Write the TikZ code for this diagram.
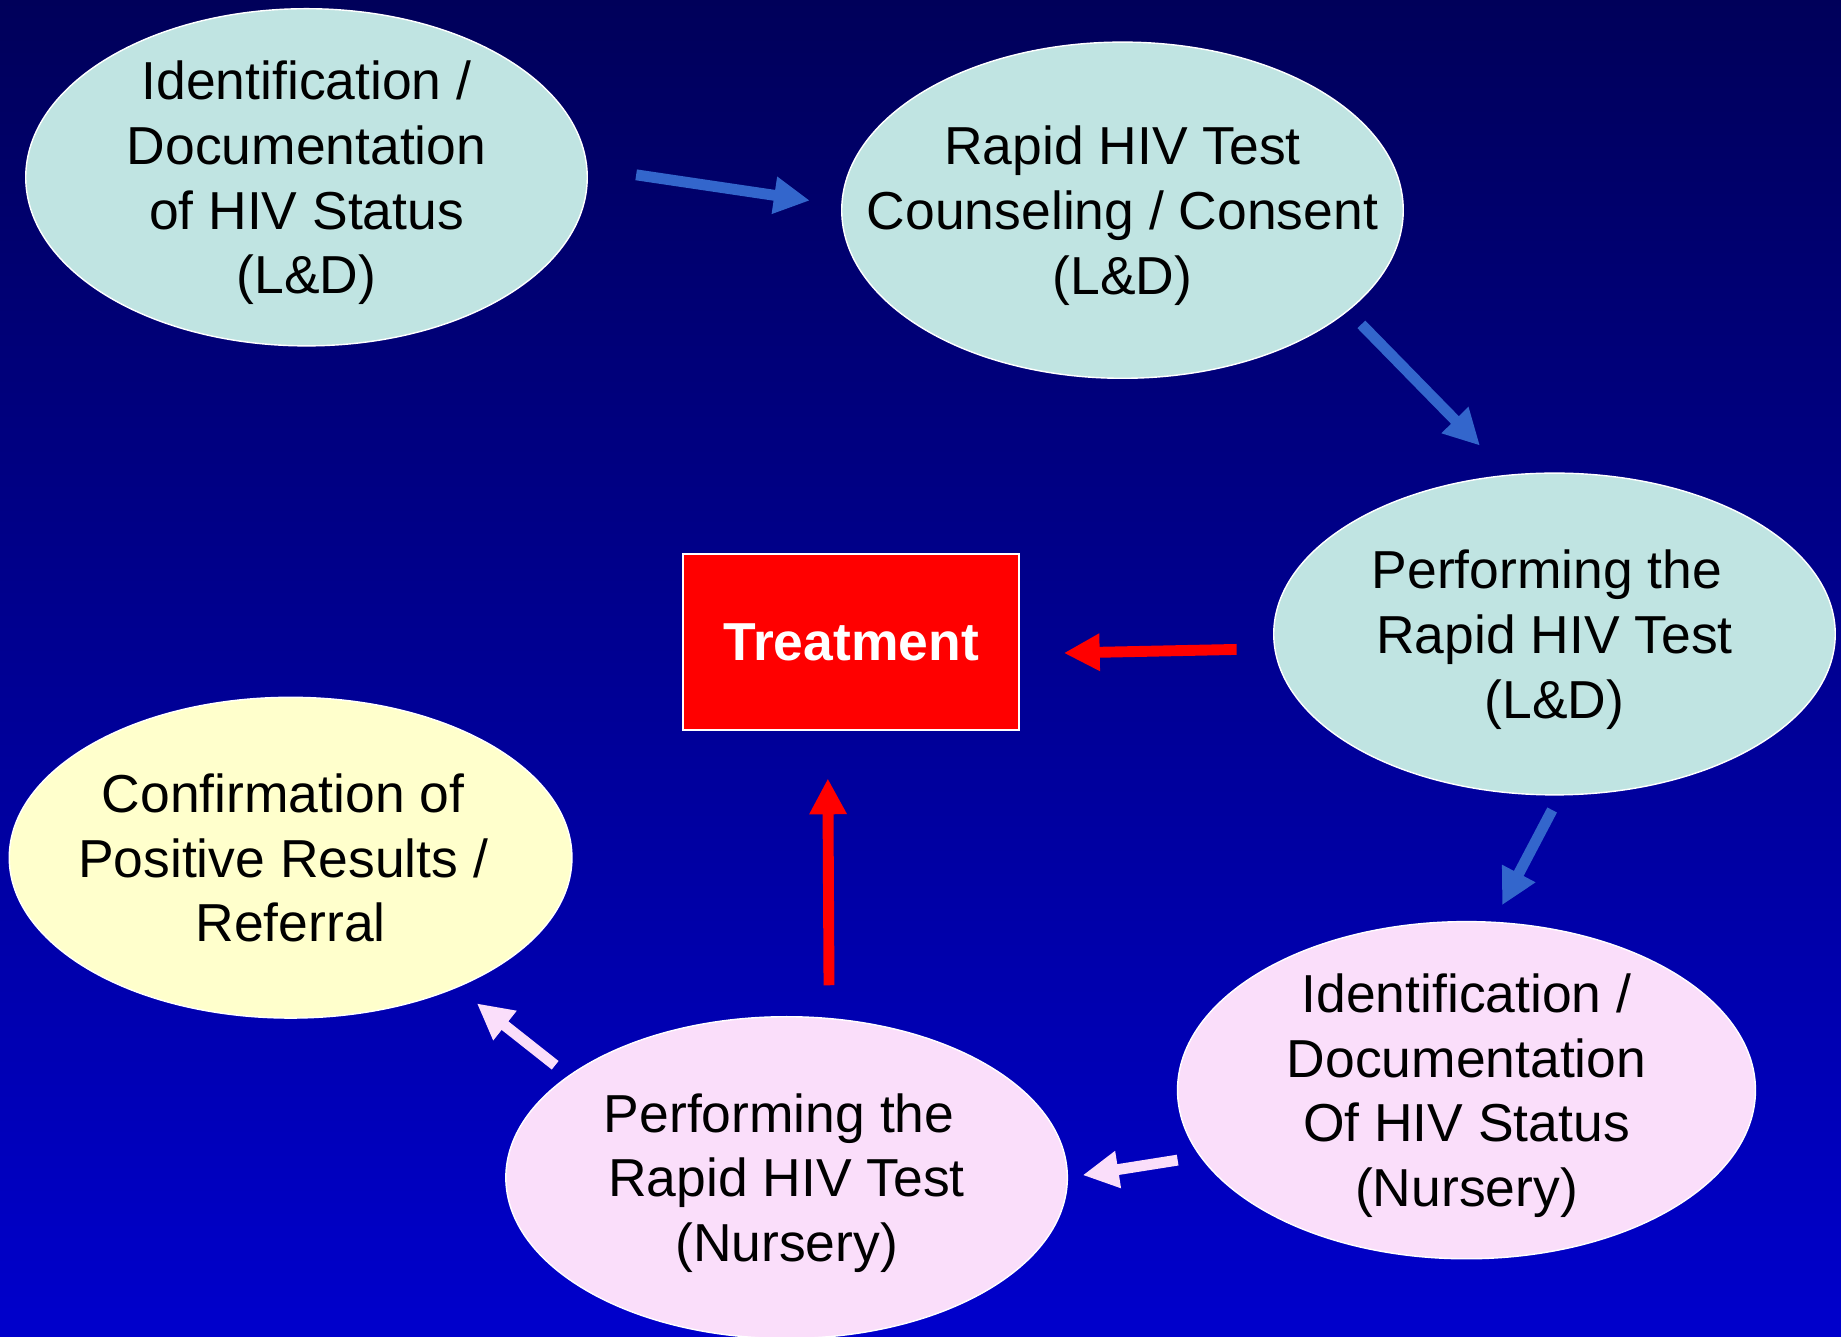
\documentclass[tikz,border=0pt]{standalone}
\usepackage{fontspec}
\setmainfont{Liberation Sans}
\usetikzlibrary{shapes.geometric,arrows.meta}

\definecolor{bgtop}{RGB}{0,0,90}
\definecolor{bgbottom}{RGB}{0,0,204}
\definecolor{stagecyan}{RGB}{192,228,226}
\definecolor{stagepink}{RGB}{250,222,250}
\definecolor{stageyellow}{RGB}{255,255,204}
\definecolor{arrowblue}{RGB}{51,102,204}
\newcommand\stagefont{\fontsize{15.2}{18.4}\selectfont}
\newcommand\trailsp{\kern0.28em}

\begin{document}
\begin{tikzpicture}[x=0.01cm, y=-0.01cm,
	stagebox/.style={ellipse, draw=white, line width=0.4pt, inner xsep=-1cm, inner ysep=-0.5cm, outer sep=0pt, align=center, text depth=0pt, font=\stagefont},
	cyanstage/.style={stagebox, fill=stagecyan},
	pinkstage/.style={stagebox, fill=stagepink},
	yellowstage/.style={stagebox, fill=stageyellow},
	treatbox/.style={rectangle, draw=white, line width=0.6pt, fill=red, outer sep=0pt, text=white, font=\stagefont\bfseries},
	flowarrow/.style={line width=3.1pt, -{Triangle[length=10.2pt,width=10pt]}},
	bluearrow/.style={flowarrow, draw=arrowblue},
	redarrow/.style={flowarrow, draw=red},
	pinkarrow/.style={flowarrow, draw=stagepink}]
	\fill[top color=bgtop, bottom color=bgbottom] (0,0) rectangle (1841,1337);
	\useasboundingbox (0,0) rectangle (1841,1337);

	\node[cyanstage, minimum width=5.612cm, minimum height=3.37cm] (idld) at (306.5,177.3) {Identification /\\Documentation\\of HIV Status\\(L\&D)};
	\node[cyanstage, minimum width=5.612cm, minimum height=3.36cm] (rapidld) at (1122.5,210.2) {Rapid HIV Test\\Counseling / Consent\\(L\&D)};
	\node[cyanstage, minimum width=5.612cm, minimum height=3.216cm] (perfld) at (1554.5,634) {Performing the\trailsp\\Rapid HIV Test\\(L\&D)};
	\node[pinkstage, minimum width=5.776cm, minimum height=3.37cm] (idnur) at (1466.5,1090.2) {Identification /\\Documentation\\Of HIV Status\\(Nursery)};
	\node[pinkstage, minimum width=5.612cm, minimum height=3.216cm] (perfnur) at (786.6,1177.6) {Performing the\trailsp\\Rapid HIV Test\\(Nursery)};
	\node[yellowstage, minimum width=5.624cm, minimum height=3.206cm] (confirm) at (290.6,857.7) {Confirmation of\trailsp\\Positive Results /\trailsp\\Referral};
	\node[treatbox, minimum width=3.358cm, minimum height=1.761cm] (treat) at (851.2,642.2) {Treatment};

	\draw[bluearrow, shorten <=0.499cm, shorten >=0.3235cm] (idld.2.96) -- (rapidld.179.44);
	\draw[bluearrow, shorten <=0.194cm, shorten >=0.414cm] (rapidld.-24.78) -- (perfld.106.06);
	\draw[redarrow, shorten <=0.383cm, shorten >=0.446cm] (perfld.-177.7) -- (treat.-4.63);
	\draw[bluearrow, shorten <=0.171cm, shorten >=0.193cm] (perfld.-88.93) -- (idnur.81.03);
	\draw[pinkarrow, shorten <=0.234cm, shorten >=0.155cm] (idnur.-166.1) -- (perfnur.-0.29);
	\draw[redarrow, shorten <=0.333cm, shorten >=0.481cm] (perfnur.75.89) -- (treat.-105.6);
	\draw[pinkarrow, shorten <=0.174cm, shorten >=0.26cm] (perfnur.155.28) -- (confirm.-38.32);
\end{tikzpicture}
\end{document}
